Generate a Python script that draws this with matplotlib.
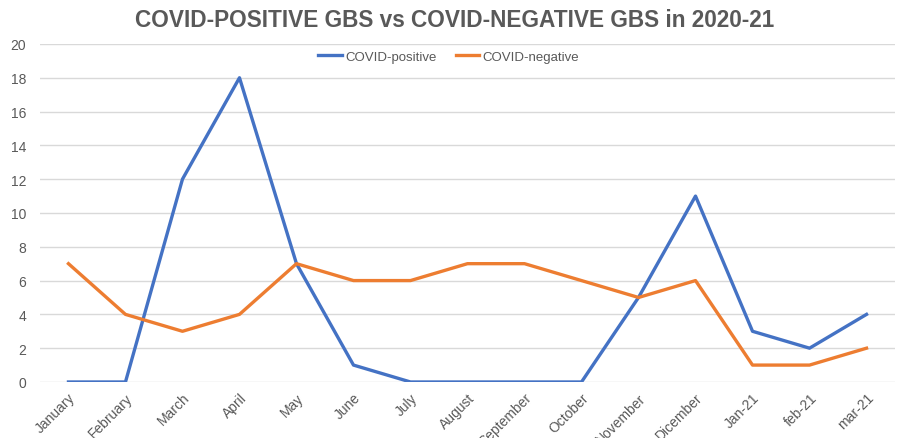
import matplotlib
matplotlib.use("Agg")
import matplotlib.pyplot as plt

months = ["January", "February", "March", "April", "May", "June", "July", "August",
          "September", "October", "November", "Dicember", "Jan-21", "feb-21", "mar-21"]
covid_positive = [0, 0, 12, 18, 7, 1, 0, 0, 0, 0, 5, 11, 3, 2, 4]
covid_negative = [7, 4, 3, 4, 7, 6, 6, 7, 7, 6, 5, 6, 1, 1, 2]
y_ticks = [0, 2, 4, 6, 8, 10, 12, 14, 16, 18, 20]

plt.rcParams['font.family'] = ['Liberation Sans', 'DejaVu Sans']
fig = plt.figure(figsize=(8.98, 4.39), dpi=100)
ax = fig.add_axes([0.0445, 0.1276, 0.9522, 0.77])
x = list(range(len(months)))
ax.plot(x, covid_positive, color="#4472C4", lw=2.4, label="COVID-positive", zorder=3)
ax.plot(x, covid_negative, color="#ED7D31", lw=2.4, label="COVID-negative", zorder=3)
ax.set_xlim(-0.5, len(months) - 0.5)
ax.set_ylim(0, 20)
ax.set_yticks(y_ticks)
ax.set_xticks(x)
ax.set_xticklabels(months, rotation=45, ha="right", rotation_mode="anchor")
ax.tick_params(axis="both", length=0, colors="#595959", labelsize=10)
ax.tick_params(axis="x", pad=6)
ax.tick_params(axis="y", pad=10)
ax.grid(axis="y", color="#D9D9D9", lw=1)
ax.set_axisbelow(True)
for s in ax.spines.values():
    s.set_visible(False)
ax.legend(loc="upper center", bbox_to_anchor=(0.478, 1.015), ncol=2, frameon=False,
          fontsize=9.5, labelcolor="#595959", handlelength=1.8, columnspacing=1.45,
          handletextpad=0.25)
fig.text(0.506, 0.954, "COVID-POSITIVE GBS vs COVID-NEGATIVE GBS in 2020-21",
         ha="center", va="center", fontsize=16.3, fontweight="bold", color="#595959")
fig.savefig("out.png", dpi=100)
